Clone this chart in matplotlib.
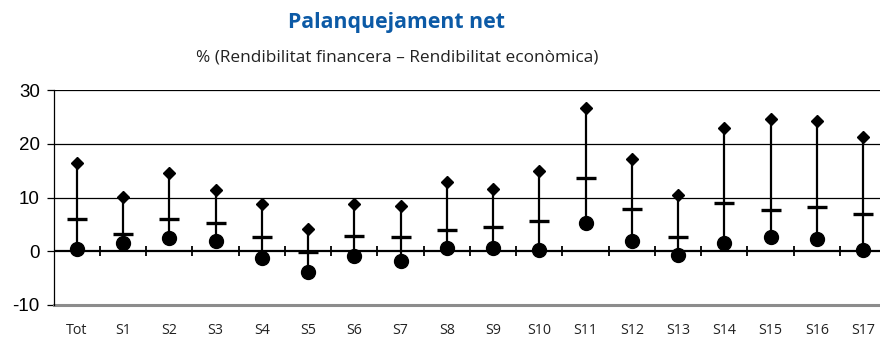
import matplotlib
matplotlib.use('Agg')
import matplotlib.pyplot as plt
import numpy as np

sectors = ['Tot', 'S1', 'S2', 'S3', 'S4', 'S5', 'S6', 'S7', 'S8', 'S9',
           'S10', 'S11', 'S12', 'S13', 'S14', 'S15', 'S16', 'S17']
max_vals = [16.5, 10.1, 14.5, 11.4, 8.8, 4.2, 8.8, 8.4, 12.9, 11.5,
            14.9, 26.6, 17.2, 10.5, 22.9, 24.6, 24.3, 21.3]
median_vals = [6.0, 3.2, 6.0, 5.3, 2.7, -0.2, 2.9, 2.7, 3.9, 4.6,
               5.6, 13.7, 7.9, 2.6, 9.0, 7.6, 8.3, 7.0]
min_vals = [0.5, 1.6, 2.5, 1.9, -1.2, -3.9, -0.8, -1.9, 0.6, 0.6,
            0.2, 5.3, 1.9, -0.7, 1.6, 2.7, 2.3, 0.2]
y_ticks = [-10, 0, 10, 20, 30]

fig = plt.figure(figsize=(8.8, 3.4), dpi=100)
ax = fig.add_axes([0.061, 0.103, 0.946, 0.632])

x = np.arange(len(sectors))

# gridlines and reference lines
for g in [10, 20, 30]:
    ax.axhline(g, color='black', lw=0.9, zorder=1)
ax.axhline(0, color='black', lw=1.6, zorder=2)
ax.axhline(-10, color='#8c8c8c', lw=2.2, zorder=2, clip_on=False)

# small category separators on the zero line
ax.plot(x[:-1] + 0.5, np.zeros(len(x) - 1), ls='none', marker='|',
        ms=7.5, mew=1.3, color='black', zorder=2)

# high-low lines with max / median / min markers
ax.vlines(x, min_vals, max_vals, color='black', lw=1.6, zorder=3)
ax.plot(x, max_vals, ls='none', marker='D', ms=6.5, color='black', zorder=4)
ax.plot(x, median_vals, ls='none', marker='_', ms=14.5, mew=2.4, color='black', zorder=4)
ax.plot(x, min_vals, ls='none', marker='o', ms=10, color='black', zorder=4)

ax.set_xlim(-0.5, len(sectors) - 0.5)
ax.set_ylim(-10, 30)
ax.set_yticks(y_ticks)
ax.set_yticklabels([str(t) for t in y_ticks], fontfamily='Liberation Sans', fontsize=13.5)
ax.tick_params(axis='y', direction='out', length=5, width=0.9, pad=5)

ax.set_xticks(x)
ax.set_xticklabels(sectors, fontfamily='Open Sans', fontsize=10.3, color='#222222')
ax.tick_params(axis='x', length=0, pad=13)

for side in ['top', 'right', 'bottom']:
    ax.spines[side].set_visible(False)
ax.spines['left'].set_linewidth(0.9)
ax.spines['left'].set_color('black')

fig.text(0.45, 0.935, 'Palanquejament net', ha='center', va='center',
         fontfamily='Open Sans', fontweight='bold', fontsize=15.3, color='#0c5aa6')
fig.text(0.451, 0.832, '% (Rendibilitat financera \u2013 Rendibilitat econòmica)',
         ha='center', va='center', fontfamily='Open Sans', fontsize=12.4, color='#222222')

fig.savefig('out.png', dpi=100)
